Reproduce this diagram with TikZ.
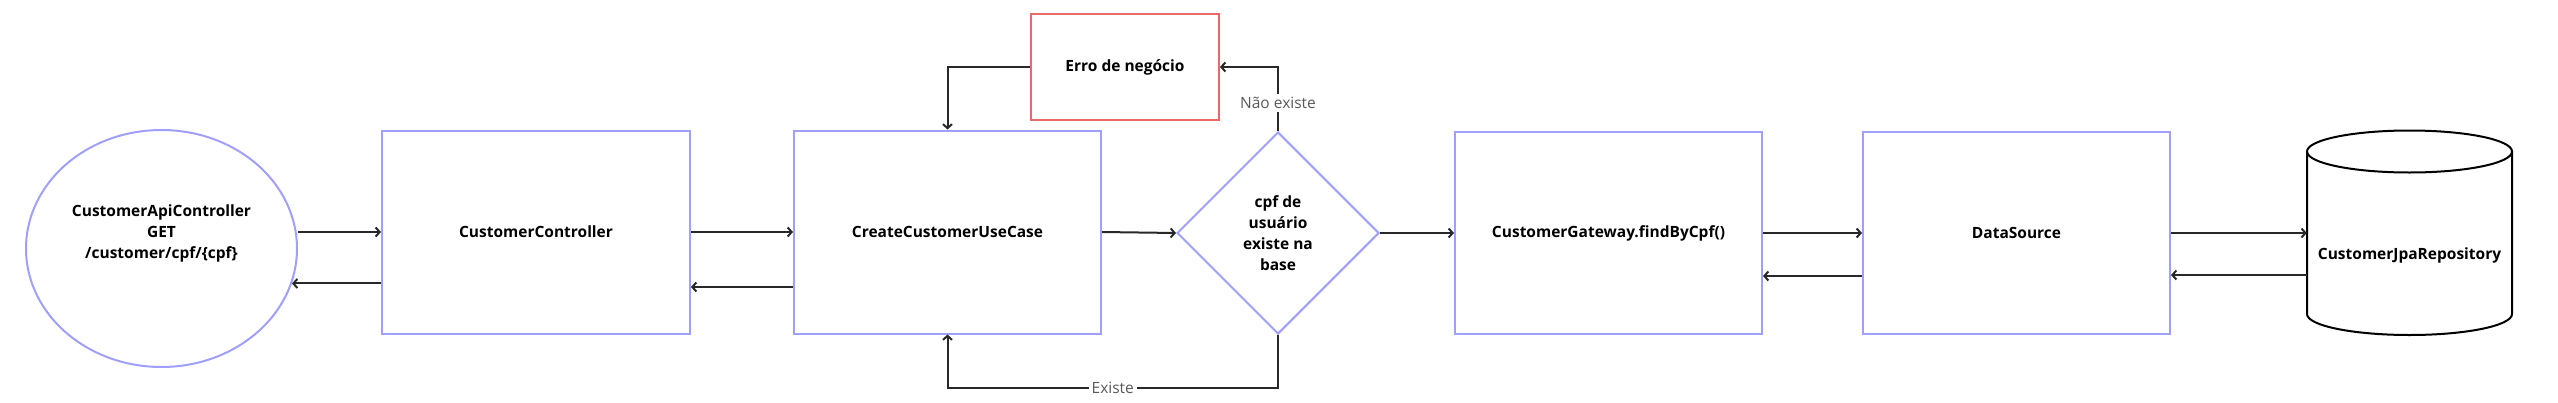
\documentclass[tikz,border=0pt]{standalone}
\usepackage{fontspec}
\setmainfont{Open Sans}
\usetikzlibrary{shapes.geometric,arrows.meta}
\definecolor{boxline}{RGB}{160,160,250}
\definecolor{errline}{RGB}{236,104,104}
\definecolor{flowline}{RGB}{40,40,40}
\begin{document}
\begin{tikzpicture}[x=1pt,y=-1pt,
  txt/.style={font=\fontsize{15.5}{21}\selectfont\bfseries, align=center, text=black},
  block/.style={txt, draw=boxline, line width=2pt, minimum width=307pt, minimum height=203pt},
  flow/.style={draw=flowline, line width=2pt, -{Straight Barb[length=4pt,width=9pt]}},
  lbl/.style={fill=white, text=black!65, font=\fontsize{15.5}{18}\selectfont, inner sep=3pt}]
  \def\yb{287}
  \def\yc{276}
  \useasboundingbox (0,0) rectangle (2558,402);

  \node[ellipse, draw=boxline, line width=2pt, minimum width=271pt, minimum height=237pt,
    label={[txt, yshift=15pt]center:{CustomerApiController\\GET\\/customer/cpf/\{cpf\}}}] (api) at (161.5,248.5) {};
  \node[block, minimum width=308pt] (ctrl) at (536,232) {CustomerController};
  \node[block] (usecase) at (947.5,232) {CreateCustomerUseCase};
  \node[txt, draw=errline, line width=2pt, minimum width=188pt, minimum height=106pt] (erro) at (1125,67) {Erro de negócio};
  \node[txt, diamond, draw=boxline, line width=2pt, minimum width=202pt, minimum height=202pt, inner sep=0pt] (check) at (1278,233) {cpf de\\usuário\\existe na\\base};
  \node[block, minimum height=202pt] (gate) at (1608.5,233) {CustomerGateway.findByCpf()};
  \node[block, minimum height=202pt] (ds) at (2016.5,233) {DataSource};
  \node[minimum width=205pt, minimum height=205pt, inner sep=0pt,
    label={[txt, yshift=-22pt]center:CustomerJpaRepository}] (db) at (2409.5,233) {};

  % cylinder
  \draw[line width=2pt] (2409.5,151.5) ellipse (102.5 and 21);
  \draw[line width=2pt] (2307,151.5) -- (2307,314) arc (180:0:102.5 and 21) -- (2512,151.5);

  % calls
  \draw[flow] (api.east |- ctrl.west) -- (ctrl.west);
  \draw[flow] (ctrl.east) -- (usecase.west);
  \draw[flow] (usecase.east) -- (check.west);
  \draw[flow] (check.east) -- (gate.west);
  \draw[flow] (gate.east) -- (ds.west);
  \draw[flow] (ds.east) -- (db.west);

  % returns
  \draw[flow] (db.west |- 0,\yc-1) -- (ds.east |- 0,\yc-1);
  \draw[flow] (ds.west |- 0,\yc) -- (gate.east |- 0,\yc);
  \draw[flow] (usecase.west |- 0,\yb) -- (ctrl.east |- 0,\yb);
  \draw[flow] (ctrl.west |- api.-15) -- (api.-15);

  % decision
  \draw[flow] (check.north) |- node[lbl, pos=0.22]{Não existe} (erro.east);
  \draw[flow] (erro.west) -| (usecase.north);
  \draw[flow] (check.south) -- ++(0,53) -| node[lbl, pos=0.25]{Existe} (usecase.south);
\end{tikzpicture}
\end{document}
